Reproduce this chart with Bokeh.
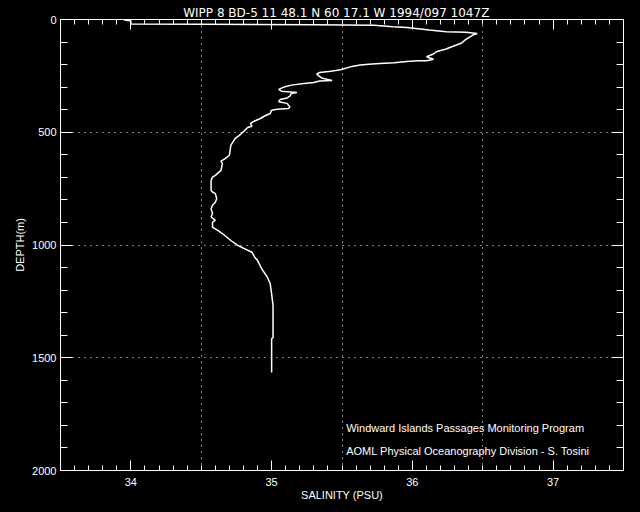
import numpy as np
from bokeh.plotting import figure
from bokeh.models import Range1d, LinearAxis, FixedTicker, Label, Title, GlobalInlineStyleSheet
from bokeh.embed import file_html
from bokeh.resources import INLINE

# Salinity profile (PSU) versus depth (m)
salinity = [33.95, 33.96, 34.00, 34.00, 34.50, 35.30, 35.73, 35.86, 35.96, 36.12,
            36.24, 36.38, 36.46, 36.43, 36.38, 36.35, 36.28, 36.24, 36.17, 36.15,
            36.10, 36.15, 36.10, 36.04, 35.96, 35.87, 35.77, 35.69, 35.63, 35.56,
            35.49, 35.42, 35.34, 35.32, 35.34, 35.36, 35.43, 35.34, 35.30, 35.23,
            35.14, 35.09, 35.05, 35.07, 35.18, 35.14, 35.13, 35.11, 35.06, 35.05,
            35.11, 35.13, 35.12, 35.04, 35.00, 34.99, 34.95, 34.92, 34.88, 34.85,
            34.86, 34.83, 34.81, 34.78, 34.74, 34.71, 34.70, 34.67, 34.64, 34.65,
            34.64, 34.60, 34.58, 34.57, 34.57, 34.58, 34.60, 34.61, 34.60, 34.58,
            34.57, 34.58, 34.57, 34.60, 34.58, 34.58, 34.62, 34.67, 34.71, 34.76,
            34.81, 34.86, 34.88, 34.90, 34.93, 34.97, 34.99, 35.00, 35.01, 35.01,
            35.01, 35.00, 35.00, 35.00]
depth = [0, 3, 5, 20, 21, 23, 26, 32, 35, 47,
         54, 57, 62, 69, 88, 104, 121, 131, 143, 153,
         165, 176, 183, 183, 186, 192, 195, 198, 202, 210,
         223, 230, 235, 242, 252, 261, 270, 273, 279, 284,
         291, 299, 310, 318, 324, 328, 340, 348, 355, 365,
         372, 388, 395, 398, 402, 417, 428, 439, 450, 461,
         473, 479, 491, 509, 528, 558, 602, 617, 628, 639,
         669, 691, 699, 713, 758, 765, 772, 794, 810, 824,
         839, 861, 876, 891, 899, 921, 936, 959, 980, 1002,
         1017, 1032, 1054, 1069, 1106, 1143, 1172, 1217, 1269, 1313,
         1410, 1416, 1513, 1565]

x_major = [34, 35, 36, 37]
x_minor = [round(v, 1) for v in np.arange(33.5, 37.51, 0.1)]
y_major = [0, 500, 1000, 1500, 2000]
y_minor = list(range(0, 2001, 100))
x_grid = [34.5, 35.5, 36.5]
y_grid = [500, 1000, 1500]

title_text = "WIPP 8 BD-5  11 48.1 N  60 17.1 W  1994/097 1047Z"
note1 = "Windward Islands Passages Monitoring Program"
note2 = "AOML Physical Oceanography Division - S. Tosini"

FONT = "Liberation Sans"

p = figure(width=640, height=512, output_backend="svg", toolbar_location=None,
           x_range=Range1d(33.5, 37.5), y_range=Range1d(2000, 0),
           min_border_left=60, min_border_right=17, min_border_top=19, min_border_bottom=42)
p.background_fill_color = "black"
p.border_fill_color = "black"
p.outline_line_color = "white"
p.stylesheets = [GlobalInlineStyleSheet(css="body { background: black; }")]

p.title = Title(text=title_text, align="center", text_color="white",
                text_font="DejaVu Sans", text_font_size="12px", text_font_style="normal",
                standoff=0, offset=0)


def style_axis(ax, ticker, major_in, minor_in):
    ax.ticker = ticker
    ax.axis_line_color = "white"
    ax.major_tick_line_color = "white"
    ax.minor_tick_line_color = "white"
    ax.major_tick_in = major_in
    ax.major_tick_out = 0
    ax.minor_tick_in = minor_in
    ax.minor_tick_out = 0
    ax.major_label_text_color = "white"
    ax.major_label_text_font = FONT
    ax.major_label_text_font_size = "11px"
    ax.axis_label_text_color = "white"
    ax.axis_label_text_font = FONT
    ax.axis_label_text_font_size = "11px"
    ax.axis_label_text_font_style = "normal"


bx = p.below[0]
style_axis(bx, FixedTicker(ticks=x_major, minor_ticks=x_minor), 10, 5)
bx.axis_label = "SALINITY (PSU)"
bx.major_label_standoff = 7
bx.axis_label_standoff = 0

ly = p.left[0]
style_axis(ly, FixedTicker(ticks=y_major, minor_ticks=y_minor), 12, 7)
ly.axis_label = "DEPTH(m)"
ly.major_label_standoff = 4
ly.axis_label_standoff = 3

# top and right axes: tick marks only (no labels), drawn as minor ticks
top_a = LinearAxis()
style_axis(top_a, FixedTicker(ticks=[], minor_ticks=x_minor), 10, 5)
p.add_layout(top_a, "above")
top_b = LinearAxis()
style_axis(top_b, FixedTicker(ticks=[], minor_ticks=x_major), 10, 10)
p.add_layout(top_b, "above")

right_a = LinearAxis()
style_axis(right_a, FixedTicker(ticks=[], minor_ticks=y_minor), 12, 7)
p.add_layout(right_a, "right")
right_b = LinearAxis()
style_axis(right_b, FixedTicker(ticks=[], minor_ticks=y_major), 12, 12)
p.add_layout(right_b, "right")

p.xgrid.ticker = FixedTicker(ticks=x_grid)
p.ygrid.ticker = FixedTicker(ticks=y_grid)
for g in (p.xgrid, p.ygrid):
    g.grid_line_color = "white"
    g.grid_line_dash = "1 5"
    g.grid_line_width = 1

p.line(salinity, depth, line_color="white", line_width=1.5)

p.add_layout(Label(x=35.53, y=1813, text=note1, text_align="left",
                   text_baseline="alphabetic", text_color="white",
                   text_font=FONT, text_font_size="11px"))
p.add_layout(Label(x=35.53, y=1913, text=note2, text_align="left",
                   text_baseline="alphabetic", text_color="white",
                   text_font=FONT, text_font_size="11px"))

open("out.html", "w").write(file_html(p, INLINE))
